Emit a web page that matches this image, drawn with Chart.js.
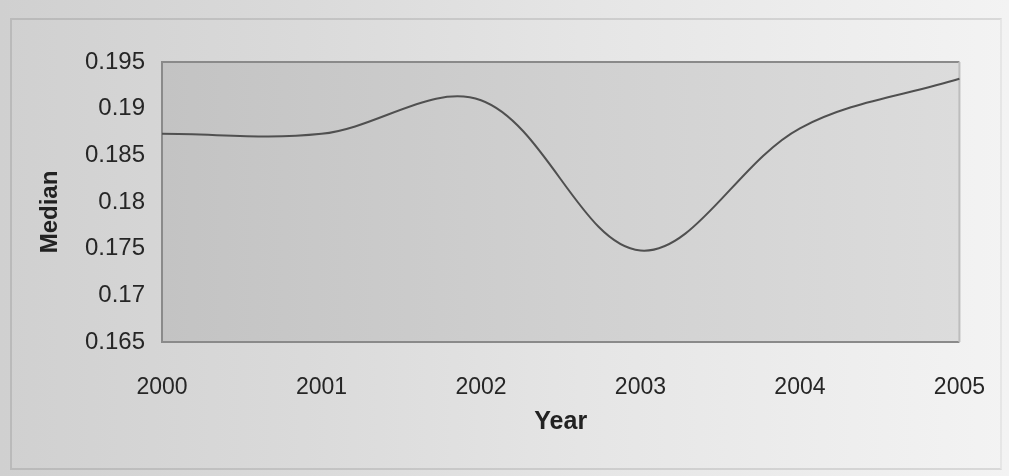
<!DOCTYPE html>
<html>
<head>
<meta charset="utf-8">
<script src="https://cdn.jsdelivr.net/npm/chart.js@4.4.1/dist/chart.umd.min.js"></script>
<style>
  html, body { margin: 0; padding: 0; }
  body {
    width: 1009px; height: 476px; overflow: hidden;
    background: linear-gradient(90deg, #d0d0d0 0%, #dadada 30%, #e6e6e6 60%, #f3f3f3 100%);
    position: relative;
  }
  #frame {
    position: absolute; left: 10px; top: 18px; width: 992px; height: 452px;
    border: 2px solid rgba(0,0,0,0.10);
    border-right-color: rgba(0,0,0,0.05);
    box-sizing: border-box;
  }
  #wrap { position: absolute; left: 0; top: 0; width: 1009px; height: 476px; }
</style>
</head>
<body>
<div id="frame"></div>
<div id="wrap"><canvas id="chart" width="1009" height="476"></canvas></div>
<script>
// Median value per year
const years = ['2000', '2001', '2002', '2003', '2004', '2005'];
const medianValues = [0.1873, 0.1873, 0.1909, 0.1748, 0.1879, 0.1932];
const yTicks = [0.165, 0.17, 0.175, 0.18, 0.185, 0.19, 0.195];
const yTitle = 'Median';

const FONT = '"Liberation Sans", Arial, sans-serif';

// Shaded plot area with a left-to-right gradient and a thin border
const plotBackground = {
  id: 'plotBackground',
  beforeDraw(chart) {
    const { ctx, chartArea: a } = chart;
    ctx.save();
    const g = ctx.createLinearGradient(a.left, 0, a.right, 0);
    g.addColorStop(0, '#c3c3c3');
    g.addColorStop(0.5, '#d0d0d0');
    g.addColorStop(1, '#dcdcdc');
    ctx.fillStyle = g;
    ctx.fillRect(a.left, a.top, a.right - a.left, a.bottom - a.top);
    ctx.lineWidth = 2;
    ctx.strokeStyle = '#8a8a8a';
    ctx.beginPath();
    ctx.moveTo(a.right, a.top);
    ctx.lineTo(a.left, a.top);
    ctx.lineTo(a.left, a.bottom);
    ctx.lineTo(a.right, a.bottom);
    ctx.stroke();
    ctx.strokeStyle = '#bdbdbd';
    ctx.beginPath();
    ctx.moveTo(a.right, a.top);
    ctx.lineTo(a.right, a.bottom);
    ctx.stroke();
    ctx.restore();
  }
};

// Vertical axis title, set a little below the plot's middle
const sideTitle = {
  id: 'sideTitle',
  afterDraw(chart) {
    const { ctx, chartArea: a } = chart;
    ctx.save();
    ctx.translate(50, (a.top + a.bottom) / 2 + 10);
    ctx.rotate(-Math.PI / 2);
    ctx.font = 'bold 24px ' + FONT;
    ctx.fillStyle = '#222';
    ctx.textAlign = 'center';
    ctx.textBaseline = 'middle';
    ctx.fillText(yTitle, 0, 0);
    ctx.restore();
  }
};

new Chart(document.getElementById('chart'), {
  type: 'line',
  data: {
    labels: years,
    datasets: [{
      data: medianValues,
      borderColor: '#505050',
      borderWidth: 2,
      pointRadius: 0,
      fill: false,
      tension: 0.35
    }]
  },
  options: {
    responsive: false,
    animation: false,
    layout: { padding: { left: 38, right: 47, top: 62, bottom: 0 } },
    plugins: { legend: { display: false }, tooltip: { enabled: false } },
    scales: {
      x: {
        offset: false,
        grid: { display: false },
        border: { display: false },
        ticks: {
          color: '#262626', padding: 24, maxRotation: 0, autoSkip: false,
          font: { family: FONT, size: 23 }
        },
        title: {
          display: true, text: 'Year', color: '#222',
          padding: { top: 0, bottom: 39 },
          font: { family: FONT, size: 25, weight: 'bold' }
        },
        afterFit(scale) { scale.height = 134; }
      },
      y: {
        min: 0.165, max: 0.195,
        grid: { display: false, drawTicks: false },
        border: { display: false },
        afterBuildTicks(scale) { scale.ticks = yTicks.map(v => ({ value: v })); },
        ticks: {
          color: '#262626', padding: 17,
          font: { family: FONT, size: 24 },
          callback: v => String(Number(v.toFixed(3)))
        },
        afterFit(scale) { scale.width = 124; }
      }
    }
  },
  plugins: [plotBackground, sideTitle]
});
</script>
</body>
</html>
